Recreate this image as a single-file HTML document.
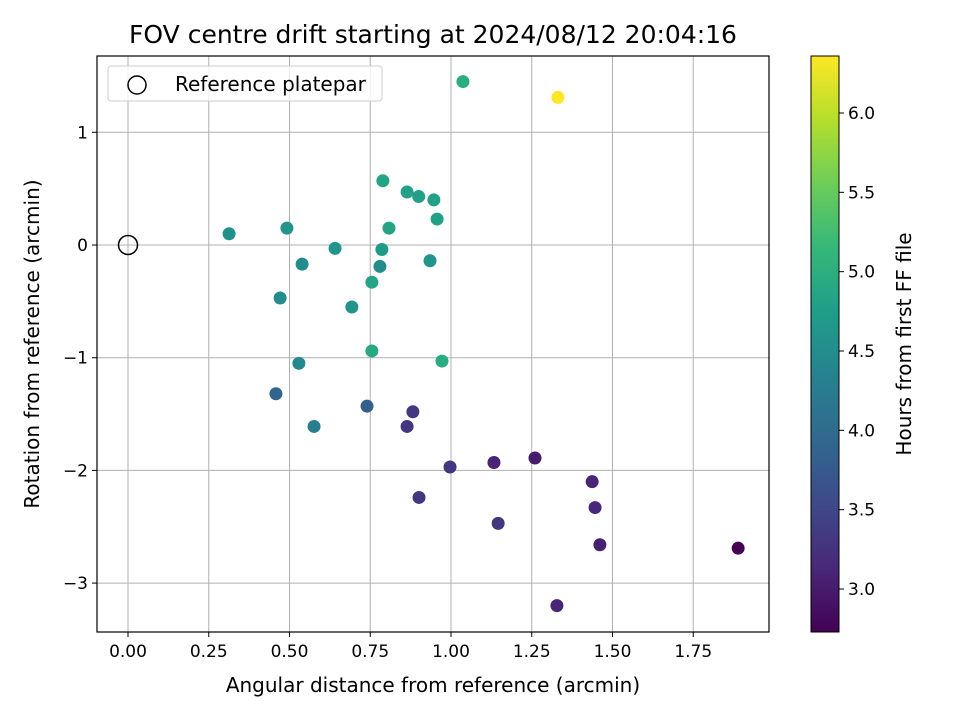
<!DOCTYPE html>
<html><head><meta charset="utf-8"><style>body{margin:0;background:#fff}svg text{font-family:"DejaVu Sans","Liberation Sans",sans-serif;fill:#000}</style></head>
<body>
<svg id="c" width="960" height="720" xmlns="http://www.w3.org/2000/svg"></svg>
<script>
const xs=[1.037,1.331,0.789,0.864,0.90,0.947,0.957,0.808,0.313,0.492,0.641,0.786,0.539,0.780,0.935,0.755,0.471,0.693,0.755,0.972,0.529,0.458,0.576,0.740,0.882,0.864,0.997,1.133,1.260,1.437,1.446,0.901,1.146,1.461,1.889,1.328];
const ys=[1.45,1.31,0.57,0.47,0.43,0.40,0.23,0.15,0.10,0.15,-0.03,-0.04,-0.17,-0.19,-0.14,-0.33,-0.47,-0.55,-0.94,-1.03,-1.05,-1.32,-1.61,-1.43,-1.48,-1.61,-1.97,-1.93,-1.89,-2.10,-2.33,-2.24,-2.47,-2.66,-2.69,-3.20];
const hours=[4.95,6.35,4.85,4.8,4.8,4.8,4.8,4.85,4.55,4.6,4.6,4.7,4.5,4.5,4.6,4.85,4.5,4.6,4.9,4.95,4.45,3.9,4.3,3.8,3.3,3.3,3.3,3.1,3.0,3.1,3.15,3.3,3.3,3.05,2.73,3.1];
const xTicks=[0,0.25,0.5,0.75,1.0,1.25,1.5,1.75];
const yTicks=[1,0,-1,-2,-3];
const cTicks=[3.0,3.5,4.0,4.5,5.0,5.5,6.0];
const cMin=2.73,cMax=6.36;
const L=97,R=769,T=56,B=632;
const X=v=>128+v*323, Y=v=>245-v*112.7;
const CY=v=>589-(v-3)*158.67;
const vir=[[68,1,84],[72,40,120],[62,74,137],[49,104,142],[38,130,142],[31,158,137],[53,183,121],[109,205,89],[180,222,44],[253,231,37]];
function col(v){let t=Math.max(0,Math.min(1,(v-cMin)/(cMax-cMin)))*9;let i=Math.min(8,Math.floor(t)),f=t-i;const a=vir[i],b=vir[i+1];return `rgb(${a.map((c,k)=>Math.round(c+(b[k]-c)*f)).join(',')})`;}
const s=document.getElementById('c');const N='http://www.w3.org/2000/svg';
function el(t,a,p){const e=document.createElementNS(N,t);for(const k in a)e.setAttribute(k,a[k]);(p||s).appendChild(e);return e;}
el('text',{x:433,y:43,'font-size':'25','text-anchor':'middle',}).textContent='FOV centre drift starting at 2024/08/12 20:04:16';
xTicks.forEach(v=>{const g=el('line',{x1:X(v),x2:X(v),y1:T,y2:B,stroke:'#b0b0b0','stroke-width':1});
el('line',{x1:X(v),x2:X(v),y1:B,y2:B+5,stroke:'#000'});
const t=el('text',{x:X(v),y:B+25,'font-size':'17','text-anchor':'middle'});t.textContent=v.toFixed(2);});
yTicks.forEach(v=>{const g=el('line',{x1:L,x2:R,y1:Y(v),y2:Y(v),stroke:'#b0b0b0','stroke-width':1});
el('line',{x1:L-5,x2:L,y1:Y(v),y2:Y(v),stroke:'#000'});
const t=el('text',{x:L-9,y:Y(v)+6,'font-size':'17','text-anchor':'end'});t.textContent=v<0?'\u2212'+(-v):String(v);});
xs.forEach((x,i)=>{const c=el('circle',{cx:X(x),cy:Y(ys[i]),r:6.5,fill:col(hours[i])});});
el('circle',{cx:X(0),cy:Y(0),r:9.5,fill:'none',stroke:'#000','stroke-width':1.5,});
el('rect',{x:L,y:T,width:R-L,height:B-T,fill:'none',stroke:'#000','stroke-width':1.2,});
el('rect',{x:108,y:66,width:274,height:35,rx:3,fill:'#fff','fill-opacity':0.8,stroke:'#ccc',});
el('circle',{cx:137,cy:85,r:9,fill:'none',stroke:'#000','stroke-width':1.5,});
el('text',{x:175,y:91,'font-size':'20',}).textContent='Reference platepar';
el('text',{x:433,y:692,'font-size':'20','text-anchor':'middle',}).textContent='Angular distance from reference (arcmin)';
el('text',{x:39,y:344,'font-size':'20','text-anchor':'middle',transform:'rotate(-90 39 344)',}).textContent='Rotation from reference (arcmin)';
const d=el('defs',{});const lg=el('linearGradient',{id:'g',x1:0,y1:1,x2:0,y2:0},d);
vir.forEach((c,i)=>el('stop',{offset:i/9,'stop-color':`rgb(${c.join(',')})`},lg));
el('rect',{x:811,y:56,width:28,height:576,fill:'url(#g)',stroke:'#000','stroke-width':1,});
cTicks.forEach(v=>{el('line',{x1:839,x2:844,y1:CY(v),y2:CY(v),stroke:'#000'});
const t=el('text',{x:848,y:CY(v)+6,'font-size':'17'});t.textContent=v.toFixed(1);});
el('text',{x:911,y:344,'font-size':'20','text-anchor':'middle',transform:'rotate(-90 911 344)',}).textContent='Hours from first FF file';
</script>
</body></html>
